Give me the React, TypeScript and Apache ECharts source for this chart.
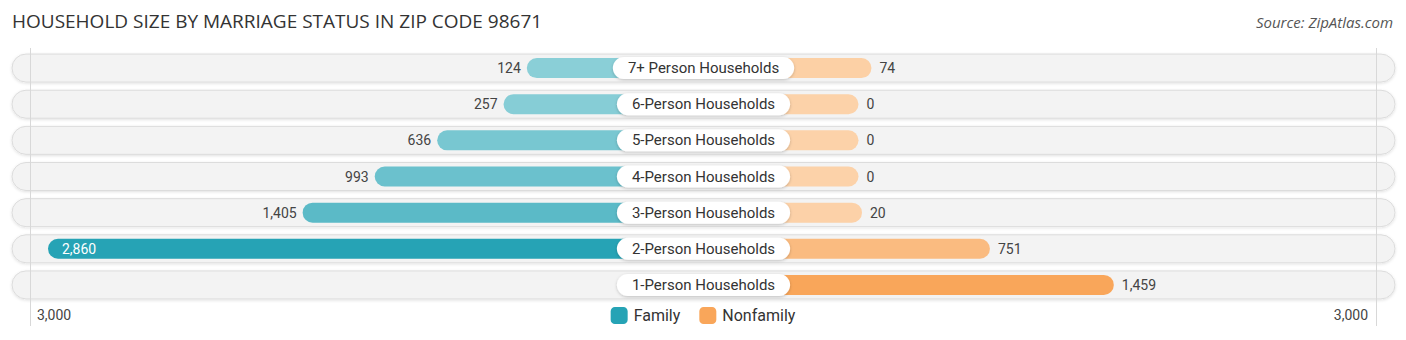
import React, { useEffect, useRef } from "react";
import * as echarts from "echarts";

const categories = [
  "7+ Person Households",
  "6-Person Households",
  "5-Person Households",
  "4-Person Households",
  "3-Person Households",
  "2-Person Households",
  "1-Person Households",
];
const familyValues: (number | null)[] = [124, 257, 636, 993, 1405, 2860, null];
const nonfamilyValues: (number | null)[] = [74, 0, 0, 0, 20, 751, 1459];
const axisMax = 3000;
const axisTickLabels = ["3,000", "3,000"];
const seriesNames = ["Family", "Nonfamily"];
const titleText = "HOUSEHOLD SIZE BY MARRIAGE STATUS IN ZIP CODE 98671";
const sourceText = "Source: ZipAtlas.com";

const OFFSET = 155;
const BAR_H = 20;
const TRACK_H = 28;
const FONT = "Roboto, 'Noto Sans', sans-serif";
const TITLE_FONT = "'Open Sans', 'Noto Sans', sans-serif";

const fmt = (v: number) => v.toLocaleString("en-US");

function lerpColor(a: string, b: string, t: number) {
  const pa = [1, 3, 5].map((k) => parseInt(a.slice(k, k + 2), 16));
  const pb = [1, 3, 5].map((k) => parseInt(b.slice(k, k + 2), 16));
  const c = pa.map((x, i) => Math.round(x + (pb[i] - x) * Math.max(0, Math.min(1, t))));
  return "rgb(" + c.join(",") + ")";
}

const famMax = Math.max(...(familyValues.filter((v) => v != null) as number[]));
const nonMax = Math.max(...(nonfamilyValues.filter((v) => v != null) as number[]));

export default function App() {
  const ref = useRef<HTMLDivElement>(null);
  useEffect(() => {
    if (!ref.current) return;
    const chart = echarts.init(ref.current, undefined, { renderer: "svg" });

    const trackSeries = {
      type: "custom",
      name: "track",
      xAxisIndex: 0,
      yAxisIndex: 0,
      silent: true,
      z: 1,
      data: categories.map((_, i) => [axisMax, i]),
      encode: { x: 0, y: 1 },
      renderItem: (params: any, api: any) => {
        const i = api.value(1);
        const edge = api.coord([axisMax, i]);
        const zero = api.coord([0, i]);
        const center = zero[0] + OFFSET;
        const left = edge[0] - 11.5;
        const right = 2 * center - left;
        return {
          type: "rect",
          shape: { x: left, y: edge[1] - TRACK_H / 2, width: right - left, height: TRACK_H, r: TRACK_H / 2 },
          style: {
            fill: "#f3f3f3",
            stroke: "#dcdcdc",
            lineWidth: 1,
            shadowBlur: 3,
            shadowColor: "rgba(0,0,0,0.12)",
            shadowOffsetY: 1,
          },
        };
      },
    };

    const familySeries = {
      type: "custom",
      name: seriesNames[0],
      xAxisIndex: 0,
      yAxisIndex: 0,
      z: 2,
      itemStyle: { color: "#26a3b5" },
      data: familyValues
        .map((v, i) => (v == null ? null : [v, i]))
        .filter((d) => d != null),
      encode: { x: 0, y: 1 },
      renderItem: (params: any, api: any) => {
        const v = api.value(0);
        const i = api.value(1);
        const p = api.coord([v, i]);
        const zero = api.coord([0, i]);
        const center = zero[0] + OFFSET;
        const color = lerpColor("#8fd1d9", "#26a3b5", v / famMax);
        const inside = p[0] - 60 < 30;
        return {
          type: "group",
          children: [
            {
              type: "rect",
              shape: { x: p[0], y: p[1] - BAR_H / 2, width: center - p[0], height: BAR_H, r: BAR_H / 2 },
              style: { fill: color },
            },
            {
              type: "text",
              x: inside ? p[0] + 14 : p[0] - 6,
              y: p[1],
              style: {
                text: fmt(v),
                align: inside ? "left" : "right",
                verticalAlign: "middle",
                textAlign: inside ? "left" : "right",
                textVerticalAlign: "middle",
                font: "14px " + FONT,
                fill: inside ? "#ffffff" : "#444444",
              },
            },
          ],
        };
      },
    };

    const nonfamilySeries = {
      type: "custom",
      name: seriesNames[1],
      xAxisIndex: 1,
      yAxisIndex: 1,
      z: 2,
      itemStyle: { color: "#f9a65a" },
      data: nonfamilyValues
        .map((v, i) => (v == null ? null : [v, i]))
        .filter((d) => d != null),
      encode: { x: 0, y: 1 },
      renderItem: (params: any, api: any) => {
        const v = api.value(0);
        const i = api.value(1);
        const p = api.coord([v, i]);
        const zero = api.coord([0, i]);
        const center = zero[0] - OFFSET;
        const color = lerpColor("#fcd2a9", "#f9a65a", v / nonMax);
        return {
          type: "group",
          children: [
            {
              type: "rect",
              shape: { x: center, y: p[1] - BAR_H / 2, width: p[0] - center, height: BAR_H, r: BAR_H / 2 },
              style: { fill: color },
            },
            {
              type: "text",
              x: p[0] + 8,
              y: p[1],
              style: {
                text: fmt(v),
                align: "left",
                verticalAlign: "middle",
                textAlign: "left",
                textVerticalAlign: "middle",
                font: "14px " + FONT,
                fill: "#444444",
              },
            },
          ],
        };
      },
    };

    const pillSeries = {
      type: "custom",
      name: "pill",
      xAxisIndex: 1,
      yAxisIndex: 1,
      silent: true,
      z: 3,
      data: categories.map((_, i) => [0, i]),
      encode: { x: 0, y: 1 },
      renderItem: (params: any, api: any) => {
        const i = api.value(1);
        const zero = api.coord([0, i]);
        const center = zero[0] - OFFSET;
        return {
          type: "text",
          x: center,
          y: zero[1],
          style: {
            text: categories[i],
            align: "center",
            verticalAlign: "middle",
            textAlign: "center",
            textVerticalAlign: "middle",
            font: "15px " + FONT,
            fill: "#333333",
            backgroundColor: "#ffffff",
            borderRadius: 11,
            padding: [3, 15, 3, 15],
            lineHeight: 16,
            shadowBlur: 3,
            shadowColor: "rgba(0,0,0,0.22)",
            shadowOffsetY: 1,
          },
        };
      },
    };

    chart.setOption({
      animation: false,
      grid: [
        { left: 23.5, top: 50, width: 525, height: 253 },
        { left: 858.5, top: 50, width: 525, height: 253 },
      ],
      xAxis: [
        { type: "value", gridIndex: 0, min: 0, max: axisMax, inverse: true, show: false },
        { type: "value", gridIndex: 1, min: 0, max: axisMax, show: false },
      ],
      yAxis: [
        { type: "category", gridIndex: 0, data: categories, inverse: true, show: false },
        { type: "category", gridIndex: 1, data: categories, inverse: true, show: false },
      ],
      legend: {
        data: seriesNames,
        left: "center",
        top: 302,
        icon: "roundRect",
        itemWidth: 17,
        itemHeight: 17,
        itemGap: 19,
        textStyle: { fontSize: 16, color: "#333333", fontFamily: FONT, padding: [0, 0, 0, 1] },
      },
      graphic: [
        {
          type: "text",
          left: 12,
          top: 11,
          style: { text: titleText, font: "19px " + TITLE_FONT, fill: "#333333" },
        },
        {
          type: "text",
          right: 13,
          top: 14,
          style: { text: sourceText, font: "italic 15px " + TITLE_FONT, fill: "#555555" },
        },
        {
          type: "line",
          shape: { x1: 30.5, y1: 48, x2: 30.5, y2: 326 },
          style: { stroke: "#d8d8d8", lineWidth: 1 },
          z: 10,
        },
        {
          type: "line",
          shape: { x1: 1376.5, y1: 48, x2: 1376.5, y2: 326 },
          style: { stroke: "#d8d8d8", lineWidth: 1 },
          z: 10,
        },
        {
          type: "text",
          left: 37,
          top: 308,
          style: { text: axisTickLabels[0], font: "14px " + FONT, fill: "#444444" },
        },
        {
          type: "text",
          right: 38,
          top: 308,
          style: { text: axisTickLabels[1], font: "14px " + FONT, fill: "#444444" },
        },
      ],
      series: [trackSeries, familySeries, nonfamilySeries, pillSeries],
    });
    return () => chart.dispose();
  }, []);

  return (
    <div
      ref={ref}
      style={{ position: "fixed", left: 0, top: 0, width: 1406, height: 340, background: "#ffffff" }}
    />
  );
}
